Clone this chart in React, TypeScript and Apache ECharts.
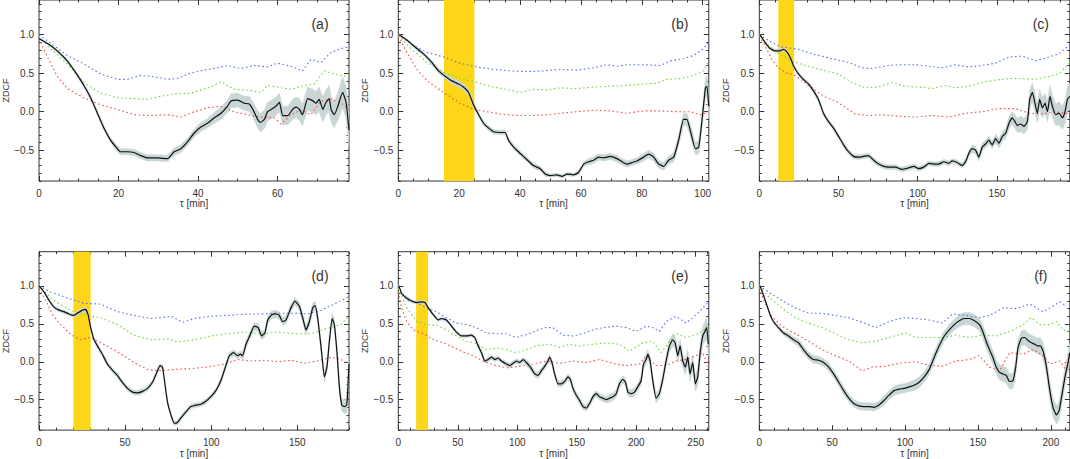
import { useEffect, useRef } from "react";
import * as echarts from "echarts";

type Pt = [number, number];
// tau [min], ZDCF, error half-width
type ZPt = [number, number, number];

// ---- panel (a) ----
const ZDCF_A: ZPt[] = [
  [0, 0.95, 0.01], [2.9, 0.86, 0.01], [5, 0.77, 0.02], [7.1, 0.66, 0.02], [9.2, 0.51, 0.02],
  [11.3, 0.34, 0.03], [13, 0.18, 0.03], [14.7, -0.02, 0.03], [16.3, -0.21, 0.03], [18, -0.37, 0.03],
  [19.7, -0.48, 0.04], [20.5, -0.52, 0.04], [22.2, -0.52, 0.04], [23.9, -0.53, 0.04], [25.6, -0.57, 0.04],
  [27.3, -0.6, 0.04], [29.8, -0.6, 0.04], [32.3, -0.61, 0.04], [34, -0.52, 0.05], [35.7, -0.48, 0.05],
  [37.4, -0.39, 0.05], [39, -0.28, 0.05], [40.7, -0.2, 0.06], [42.4, -0.15, 0.06], [44.1, -0.08, 0.07],
  [45.8, -0.02, 0.08], [47.4, 0.07, 0.08], [48.3, 0.14, 0.09], [50, 0.15, 0.09], [51.6, 0.11, 0.09],
  [52.9, 0.1, 0.1], [53.8, 0.03, 0.1], [55, -0.1, 0.11], [55.7, -0.14, 0.12], [56.7, -0.1, 0.12],
  [57.5, 0, 0.12], [58.5, 0.03, 0.12], [59.6, 0.07, 0.12], [60.5, 0.12, 0.12], [61.3, -0.05, 0.12],
  [62.6, -0.05, 0.12], [63.8, 0.03, 0.13], [64.7, 0.06, 0.13], [65.5, 0.03, 0.14], [66.3, -0.04, 0.14],
  [67.6, 0.17, 0.15], [68.9, 0.14, 0.15], [69.7, 0.11, 0.15], [70.5, 0.16, 0.16], [71.4, 0.03, 0.16],
  [72.2, 0.12, 0.16], [73, 0.17, 0.17], [73.5, 0.03, 0.17], [74.3, -0.04, 0.17], [75.2, 0.07, 0.18],
  [76.4, 0.25, 0.2], [77.3, 0.11, 0.2], [78, -0.24, 0.22],
];
const BLUE_A: Pt[] = [
  [0, 1.0], [3.7, 0.86], [7.1, 0.73], [11.3, 0.62], [15.5, 0.49], [19.7, 0.42], [22.2, 0.42], [25.6, 0.47],
  [28.1, 0.46], [32.3, 0.42], [34.8, 0.43], [37.4, 0.49], [40.7, 0.53], [44.9, 0.57], [47.4, 0.6], [50.8, 0.56],
  [54.2, 0.6], [57.5, 0.58], [60, 0.63], [63.4, 0.59], [66.3, 0.53], [68.4, 0.68], [71, 0.64], [73.5, 0.77],
  [76, 0.82], [78, 0.84],
];
const GREEN_A: Pt[] = [
  [0, 0.97], [2.9, 0.82], [7.1, 0.62], [11.3, 0.38], [15.5, 0.24], [19.7, 0.18], [23.9, 0.17], [27.3, 0.16],
  [30.6, 0.2], [34, 0.23], [38.2, 0.24], [40.7, 0.28], [43.2, 0.32], [45.8, 0.39], [49.1, 0.29], [52.5, 0.28],
  [55.8, 0.25], [57.5, 0.34], [60.9, 0.31], [63.4, 0.29], [65.9, 0.33], [69.3, 0.36], [71.8, 0.53], [74.3, 0.49],
  [76.9, 0.46], [78, 0.49],
];
const RED_A: Pt[] = [
  [0, 0.95], [2.1, 0.71], [4.6, 0.46], [7.1, 0.3], [11.3, 0.18], [15.5, 0.09], [19.7, 0.03], [23.9, -0.04],
  [28.1, -0.05], [32.3, -0.04], [35.7, -0.07], [39, 0], [42.4, 0.05], [45.8, 0.07], [49.1, 0], [52.5, -0.04],
  [55.8, -0.07], [59.2, -0.08], [60.9, -0.16], [63.4, -0.04], [65.9, 0.02], [68.4, -0.04], [71, 0.14], [73.5, 0.16],
  [76, 0.11], [78, 0.03],
];

// ---- panel (b) ----
const ZDCF_B: ZPt[] = [
  [0.3, 1.0, 0.01], [2.8, 0.93, 0.01], [5.5, 0.84, 0.02], [8.3, 0.75, 0.02], [11, 0.64, 0.03],
  [13.2, 0.53, 0.03], [15.4, 0.46, 0.03], [17.6, 0.4, 0.04], [19.8, 0.36, 0.04], [21.4, 0.32, 0.04],
  [23.1, 0.25, 0.04], [24.7, 0.09, 0.03], [26.4, -0.04, 0.03], [28, -0.15, 0.03], [29.6, -0.21, 0.03],
  [31.3, -0.26, 0.03], [33.5, -0.27, 0.03], [35.1, -0.27, 0.03], [36.2, -0.37, 0.03], [37.9, -0.46, 0.03],
  [40, -0.54, 0.03], [42.2, -0.62, 0.03], [44.4, -0.7, 0.03], [46.6, -0.74, 0.03], [48.3, -0.81, 0.03],
  [49.9, -0.83, 0.02], [52.1, -0.82, 0.02], [53.8, -0.84, 0.02], [55.4, -0.81, 0.02], [57.6, -0.82, 0.02],
  [59.2, -0.79, 0.03], [60.9, -0.68, 0.03], [62.5, -0.65, 0.04], [64.2, -0.63, 0.04], [65.8, -0.59, 0.04],
  [67.5, -0.6, 0.04], [69.6, -0.58, 0.04], [71.8, -0.61, 0.04], [73.5, -0.65, 0.04], [75.1, -0.68, 0.04],
  [76.8, -0.66, 0.04], [78.4, -0.64, 0.04], [80.6, -0.59, 0.05], [82.2, -0.55, 0.05], [83.9, -0.59, 0.05],
  [85.5, -0.68, 0.05], [87.2, -0.71, 0.05], [88.8, -0.63, 0.05], [90.5, -0.59, 0.06], [92.1, -0.37, 0.07],
  [93.7, -0.1, 0.08], [94.8, -0.1, 0.08], [95.9, -0.24, 0.08], [97.6, -0.48, 0.08], [98.7, -0.46, 0.09],
  [99.8, -0.1, 0.1], [100.9, 0.31, 0.12], [101.4, 0.33, 0.14], [102, 0.07, 0.16],
];
const BLUE_B: Pt[] = [
  [0, 1.0], [5, 0.86], [9.4, 0.77], [14.9, 0.71], [20.3, 0.63], [25.8, 0.58], [31.3, 0.55], [36.8, 0.53],
  [42.3, 0.52], [47.7, 0.53], [53.2, 0.55], [58.7, 0.54], [64.2, 0.57], [68.6, 0.61], [71.8, 0.59], [75.1, 0.61],
  [80.6, 0.61], [86.1, 0.6], [89.4, 0.66], [93.8, 0.69], [97, 0.73], [100.3, 0.82], [102, 0.91],
];
const GREEN_B: Pt[] = [
  [0, 0.99], [5, 0.79], [9.4, 0.64], [14.9, 0.51], [20.3, 0.43], [25.8, 0.38], [31.3, 0.32], [36.8, 0.28],
  [40, 0.25], [44.4, 0.29], [48.8, 0.28], [53.2, 0.31], [58.7, 0.3], [64.2, 0.32], [69.6, 0.33], [75.1, 0.34],
  [80.6, 0.36], [85, 0.37], [88.3, 0.42], [92.7, 0.43], [97, 0.47], [100.3, 0.53], [102, 0.66],
];
const RED_B: Pt[] = [
  [0, 0.98], [2.8, 0.77], [6.1, 0.55], [9.4, 0.4], [14.9, 0.25], [20.3, 0.11], [24.7, 0.03], [29.1, 0],
  [33.5, -0.03], [39, -0.05], [44.4, -0.05], [48.8, -0.04], [53.2, -0.02], [58.7, 0], [64.2, 0.02], [69.6, 0.01],
  [75.1, -0.02], [80.6, 0.01], [86.1, 0.01], [91.6, 0], [95.9, 0], [99.2, -0.04], [102, 0],
];

// ---- panel (c) ----
const ZDCF_C: ZPt[] = [
  [0.4, 1.0, 0.01], [3.6, 0.9, 0.01], [6.8, 0.82, 0.02], [9.9, 0.79, 0.02], [13.1, 0.79, 0.02],
  [15.2, 0.81, 0.02], [17.3, 0.78, 0.02], [19.4, 0.71, 0.02], [21.5, 0.6, 0.02], [24.7, 0.49, 0.02],
  [27.8, 0.42, 0.02], [31, 0.36, 0.03], [34.2, 0.27, 0.03], [37.3, 0.16, 0.03], [40.5, -0.02, 0.03],
  [43.7, -0.13, 0.03], [46.8, -0.21, 0.03], [50, -0.32, 0.03], [53.2, -0.43, 0.03], [56.3, -0.52, 0.03],
  [59.5, -0.58, 0.03], [62.7, -0.59, 0.03], [65.8, -0.58, 0.03], [69, -0.57, 0.03], [72.2, -0.63, 0.03],
  [75.3, -0.68, 0.03], [78.5, -0.71, 0.03], [81.6, -0.72, 0.03], [85.9, -0.72, 0.03], [90.1, -0.75, 0.03],
  [94.3, -0.73, 0.03], [97.5, -0.71, 0.03], [100.6, -0.74, 0.03], [103.8, -0.72, 0.03], [107, -0.67, 0.03],
  [110.1, -0.68, 0.03], [113.3, -0.68, 0.03], [116.5, -0.65, 0.03], [119.6, -0.67, 0.03], [121.7, -0.64, 0.03],
  [124.9, -0.66, 0.03], [128.1, -0.7, 0.03], [130.2, -0.65, 0.04], [132.3, -0.54, 0.04], [134.4, -0.48, 0.05],
  [136.5, -0.5, 0.05], [138.6, -0.59, 0.05], [140.7, -0.46, 0.05], [142.8, -0.42, 0.05], [144.9, -0.37, 0.05],
  [147, -0.43, 0.05], [149.2, -0.35, 0.06], [151.3, -0.41, 0.06], [153.4, -0.32, 0.06], [155.5, -0.28, 0.07],
  [157.6, -0.15, 0.08], [159.7, -0.08, 0.08], [161.4, -0.13, 0.09], [162.9, -0.18, 0.09], [165, -0.16, 0.1],
  [167.1, -0.19, 0.1], [169.2, -0.13, 0.1], [170.7, 0.16, 0.12], [172.4, 0.25, 0.12], [174, 0.11, 0.12],
  [175.5, -0.02, 0.12], [177, 0.16, 0.13], [178.7, 0.05, 0.13], [180.4, 0.11, 0.13], [181.9, 0, 0.13],
  [183.5, 0.2, 0.14], [185, 0.07, 0.14], [187.1, -0.04, 0.14], [189.2, -0.02, 0.15], [191.4, -0.08, 0.15],
  [193, 0, 0.15], [194.5, 0.16, 0.16], [196, 0.2, 0.17],
];
const BLUE_C: Pt[] = [
  [0, 1.0], [7.8, 0.9], [14.1, 0.84], [24.7, 0.81], [35.2, 0.74], [45.8, 0.69], [56.3, 0.64], [64.8, 0.57],
  [71.1, 0.56], [81.6, 0.6], [90.1, 0.61], [98.5, 0.61], [107, 0.59], [115.4, 0.57], [123.8, 0.61], [132.3, 0.58],
  [140.7, 0.6], [149.2, 0.63], [157.6, 0.71], [166, 0.72], [170.3, 0.69], [174.5, 0.66], [182.9, 0.71],
  [189.2, 0.75], [196, 0.87],
];
const GREEN_C: Pt[] = [
  [0, 0.99], [7.8, 0.82], [14.1, 0.73], [20.5, 0.66], [28.9, 0.6], [39.5, 0.54], [50, 0.49], [58.4, 0.38],
  [66.9, 0.31], [75.3, 0.32], [83.8, 0.38], [92.2, 0.33], [100.6, 0.32], [109.1, 0.3], [117.5, 0.34], [123.8, 0.31],
  [132.3, 0.33], [140.7, 0.38], [149.2, 0.41], [157.6, 0.43], [166, 0.43], [174.5, 0.42], [182.9, 0.46],
  [189.2, 0.49], [196, 0.64],
];
const RED_C: Pt[] = [
  [0, 0.98], [3.6, 0.86], [7.8, 0.68], [12, 0.57], [17.3, 0.5], [22.6, 0.47], [28.9, 0.38], [35.2, 0.28],
  [41.6, 0.19], [47.9, 0.14], [54.2, 0.06], [60.5, -0.03], [69, -0.05], [77.4, -0.04], [88, -0.06], [98.5, -0.07],
  [109.1, -0.05], [119.6, -0.07], [130.2, -0.02], [140.7, 0], [151.3, 0.04], [161.8, 0.04], [170.3, -0.02],
  [178.7, -0.03], [187.1, 0], [196, -0.03],
];

// ---- panel (d) ----
const ZDCF_D: ZPt[] = [
  [0, 1.0, 0.01], [2.9, 0.92, 0.01], [5.8, 0.81, 0.02], [8.7, 0.72, 0.02], [11.6, 0.68, 0.02],
  [14.5, 0.66, 0.02], [17.4, 0.63, 0.02], [20, 0.61, 0.02], [22.3, 0.64, 0.03], [25.2, 0.68, 0.03],
  [27.1, 0.69, 0.03], [28.5, 0.62, 0.03], [30, 0.45, 0.03], [32, 0.29, 0.03], [33.9, 0.21, 0.03],
  [36.8, 0.1, 0.03], [39.7, -0.03, 0.03], [42.6, -0.11, 0.03], [45.5, -0.18, 0.03], [48.4, -0.27, 0.03],
  [51.4, -0.35, 0.03], [54.3, -0.4, 0.03], [57.2, -0.41, 0.03], [60.1, -0.39, 0.03], [63, -0.35, 0.03],
  [65.9, -0.27, 0.03], [68.4, -0.14, 0.03], [70.3, -0.05, 0.03], [71.7, -0.07, 0.03], [73.1, -0.29, 0.03],
  [74.6, -0.53, 0.03], [76.6, -0.7, 0.03], [78.5, -0.81, 0.03], [80.4, -0.8, 0.03], [82.4, -0.74, 0.03],
  [85.3, -0.66, 0.03], [88.2, -0.59, 0.03], [91.1, -0.57, 0.03], [94, -0.56, 0.03], [96.9, -0.52, 0.03],
  [99.8, -0.46, 0.03], [102.7, -0.38, 0.03], [105.6, -0.25, 0.04], [108.5, -0.05, 0.04], [110.5, 0.08, 0.04],
  [113, 0.12, 0.04], [115.3, 0.08, 0.04], [116.9, 0.1, 0.04], [118.2, 0.08, 0.05], [120.2, 0.23, 0.05],
  [122.7, 0.36, 0.05], [125, 0.47, 0.05], [127.3, 0.45, 0.05], [129.3, 0.34, 0.05], [131.2, 0.38, 0.05],
  [132.8, 0.55, 0.05], [135.1, 0.62, 0.05], [137.6, 0.63, 0.05], [139.5, 0.61, 0.05], [141.5, 0.53, 0.05],
  [143.4, 0.55, 0.05], [146.3, 0.71, 0.05], [148.6, 0.8, 0.05], [151.2, 0.73, 0.05], [153.1, 0.58, 0.06],
  [155, 0.42, 0.06], [157, 0.53, 0.06], [158.9, 0.71, 0.06], [160.3, 0.74, 0.06], [161.8, 0.58, 0.06],
  [163.8, 0.19, 0.07], [165.7, -0.2, 0.07], [167.2, -0.07, 0.07], [168.6, 0.27, 0.07], [170.2, 0.57, 0.07],
  [171.5, 0.49, 0.07], [173.1, 0.1, 0.08], [174.4, -0.33, 0.08], [175.8, -0.57, 0.08], [177.3, -0.59, 0.09],
  [178.7, -0.57, 0.1], [180, -0.03, 0.12],
];
const BLUE_D: Pt[] = [
  [0, 1.0], [6.8, 0.92], [16.5, 0.84], [26.2, 0.77], [35.9, 0.76], [45.5, 0.66], [55.2, 0.61], [64.9, 0.57],
  [70.7, 0.58], [76.6, 0.6], [83.3, 0.52], [90.1, 0.57], [99.8, 0.6], [109.5, 0.61], [121.5, 0.63], [128.9, 0.63],
  [138.6, 0.64], [148.3, 0.64], [156, 0.63], [163.8, 0.68], [171.5, 0.76], [180, 0.86],
];
const GREEN_D: Pt[] = [
  [0, 1.0], [6.8, 0.84], [12.6, 0.75], [20.3, 0.66], [28.1, 0.61], [35.9, 0.58], [45.5, 0.49], [55.2, 0.35],
  [64.9, 0.29], [74.6, 0.3], [80.4, 0.26], [90.1, 0.29], [99.8, 0.34], [109.5, 0.37], [119.2, 0.39], [128.9, 0.37],
  [138.6, 0.39], [148.3, 0.37], [158, 0.37], [167.6, 0.44], [175.4, 0.49], [180, 0.61],
];
const RED_D: Pt[] = [
  [0, 0.97], [3.9, 0.81], [7.8, 0.62], [12.6, 0.49], [18.4, 0.36], [24.2, 0.29], [30, 0.32], [35.9, 0.25],
  [41.7, 0.18], [49.4, 0.08], [55.2, -0.01], [63, -0.1], [68.8, -0.12], [78.5, -0.1], [88.2, -0.09], [97.9, -0.07],
  [107.6, -0.03], [115.3, 0.03], [123.1, 0.01], [130.8, 0.02], [138.6, 0], [146.3, 0.02], [154.1, -0.02],
  [161.8, 0.01], [169.6, 0.06], [175.4, 0.03], [180, -0.03],
];

// ---- panel (e) ----
const ZDCF_E: ZPt[] = [
  [0.6, 1.0, 0.01], [2.8, 0.9, 0.01], [7, 0.84, 0.02], [11.2, 0.8, 0.02], [15.4, 0.78, 0.02],
  [19.6, 0.79, 0.02], [22.4, 0.78, 0.02], [25.2, 0.71, 0.02], [29.4, 0.62, 0.02], [33.6, 0.55, 0.02],
  [36.4, 0.57, 0.02], [40.5, 0.55, 0.02], [44.7, 0.47, 0.02], [48.9, 0.39, 0.02], [53.1, 0.34, 0.02],
  [57.3, 0.34, 0.02], [61.5, 0.35, 0.02], [64.3, 0.32, 0.02], [67.1, 0.21, 0.03], [69.9, 0.12, 0.03],
  [72.7, 0.01, 0.03], [75.5, 0.03, 0.03], [78.3, 0.06, 0.03], [81.1, 0.03, 0.03], [83.9, 0.05, 0.03],
  [86.7, 0.01, 0.03], [90.9, -0.03, 0.03], [93.7, -0.05, 0.03], [96.5, -0.02, 0.03], [99.3, 0.01, 0.03],
  [102.1, -0.01, 0.03], [104.9, 0.03, 0.03], [107.7, -0.01, 0.04], [111, -0.07, 0.04], [114.7, -0.16, 0.04],
  [117.4, -0.18, 0.04], [120.2, -0.12, 0.04], [123, -0.06, 0.04], [125.8, 0.01, 0.04], [127.2, 0.06, 0.04],
  [129.5, -0.03, 0.04], [131.4, -0.16, 0.04], [134.2, -0.29, 0.04], [137, -0.29, 0.04], [139.8, -0.26, 0.04],
  [142.6, -0.2, 0.04], [144.6, -0.23, 0.04], [146.8, -0.35, 0.04], [149.6, -0.44, 0.04], [152.4, -0.51, 0.04],
  [155.2, -0.59, 0.04], [158, -0.61, 0.04], [160.8, -0.55, 0.04], [163.6, -0.46, 0.04], [166.4, -0.42, 0.04],
  [169.2, -0.46, 0.04], [172, -0.48, 0.04], [174.8, -0.5, 0.04], [177.6, -0.48, 0.05], [180.4, -0.46, 0.05],
  [183.2, -0.42, 0.05], [185.9, -0.29, 0.05], [188.8, -0.23, 0.05], [191, -0.27, 0.05], [193, -0.4, 0.05],
  [195.7, -0.42, 0.05], [198.5, -0.4, 0.05], [201.3, -0.33, 0.05], [204.1, -0.25, 0.06], [206.1, -0.03, 0.06],
  [208.3, 0.03, 0.06], [209.7, 0.1, 0.06], [211.7, 0.01, 0.06], [213.9, -0.25, 0.06], [216.7, -0.48, 0.06],
  [219.5, -0.42, 0.06], [222.3, -0.23, 0.07], [225.1, 0.01, 0.07], [227.9, 0.21, 0.08], [230.7, 0.29, 0.08],
  [232.7, 0.25, 0.08], [234.9, 0.08, 0.09], [236.9, 0.21, 0.09], [239.1, 0.01, 0.09], [241.3, -0.07, 0.1],
  [243.3, 0.06, 0.1], [245.2, -0.16, 0.1], [247.5, -0.01, 0.1], [249.7, -0.29, 0.1], [251.7, -0.2, 0.11],
  [253.6, 0.1, 0.11], [255.9, 0.34, 0.12], [257.8, 0.4, 0.13], [259.2, 0.45, 0.14], [260.6, 0.23, 0.15],
];
const BLUE_E: Pt[] = [
  [0, 0.99], [7, 0.81], [15.4, 0.78], [23.8, 0.71], [32.2, 0.66], [40.5, 0.58], [48.9, 0.51], [57.3, 0.49],
  [65.7, 0.45], [74.1, 0.38], [82.5, 0.37], [90.9, 0.37], [99.3, 0.32], [107.7, 0.36], [116, 0.41], [123, 0.45],
  [130, 0.45], [138.4, 0.35], [146.8, 0.34], [155.2, 0.37], [163.6, 0.42], [172, 0.45], [183.2, 0.47],
  [191.6, 0.45], [199.9, 0.4], [208.3, 0.47], [213.9, 0.45], [219.5, 0.4], [225.1, 0.53], [233.5, 0.6],
  [241.9, 0.51], [247.5, 0.58], [253.1, 0.66], [260.6, 0.79],
];
const GREEN_E: Pt[] = [
  [0, 0.97], [7, 0.71], [15.4, 0.53], [23.8, 0.49], [32.2, 0.48], [40.5, 0.42], [48.9, 0.34], [57.3, 0.27],
  [65.7, 0.24], [74.1, 0.16], [82.5, 0.18], [90.9, 0.16], [99.3, 0.12], [107.7, 0.16], [116, 0.21], [127.2, 0.23],
  [135.6, 0.19], [144, 0.23], [152.4, 0.21], [163.6, 0.23], [174.8, 0.25], [185.9, 0.23], [194.4, 0.14],
  [205.5, 0.25], [213.9, 0.27], [220.9, 0.12], [227.9, 0.27], [233.5, 0.37], [241.9, 0.32], [250.3, 0.36],
  [255.9, 0.4], [260.6, 0.47],
];
const RED_E: Pt[] = [
  [0, 0.92], [2.8, 0.71], [7, 0.53], [12.6, 0.42], [21, 0.37], [29.4, 0.29], [37.8, 0.25], [46.1, 0.19],
  [54.5, 0.13], [62.9, 0.08], [71.3, 0.01], [79.7, -0.04], [90.9, -0.08], [102.1, -0.06], [113.3, -0.03],
  [124.4, 0.01], [135.6, -0.02], [146.8, 0.01], [158, -0.01], [169.2, 0.03], [180.4, -0.02], [191.6, -0.05],
  [202.7, -0.03], [208.3, 0.08], [216.7, -0.05], [225.1, -0.05], [233.5, 0.01], [241.9, 0.03], [250.3, 0.08],
  [255.9, 0.12], [260.6, -0.07],
];

// ---- panel (f) ----
const ZDCF_F: ZPt[] = [
  [0.5, 1.0, 0.01], [2.8, 0.88, 0.02], [5.1, 0.75, 0.02], [7.4, 0.62, 0.02], [9.7, 0.53, 0.02],
  [13.1, 0.45, 0.03], [16.6, 0.38, 0.03], [20, 0.34, 0.04], [23.4, 0.29, 0.04], [26.9, 0.25, 0.05],
  [30.3, 0.16, 0.05], [33.8, 0.08, 0.05], [37.2, 0.03, 0.05], [40.7, 0.02, 0.05], [44.1, -0.01, 0.05],
  [47.6, -0.07, 0.05], [51, -0.16, 0.05], [54.5, -0.27, 0.05], [57.9, -0.38, 0.05], [61.4, -0.48, 0.05],
  [64.8, -0.55, 0.05], [68.3, -0.58, 0.05], [71.7, -0.59, 0.05], [75.2, -0.59, 0.05], [78.6, -0.6, 0.05],
  [82.1, -0.57, 0.05], [85.5, -0.51, 0.06], [89, -0.44, 0.06], [92.4, -0.38, 0.06], [95.9, -0.36, 0.06],
  [99.3, -0.35, 0.06], [102.8, -0.33, 0.06], [106.2, -0.31, 0.07], [109.7, -0.27, 0.07], [113.1, -0.2, 0.07],
  [116.6, -0.1, 0.07], [120, 0.06, 0.07], [123.4, 0.21, 0.07], [126.9, 0.34, 0.07], [130.3, 0.42, 0.07],
  [133.8, 0.49, 0.07], [137.2, 0.54, 0.08], [140.7, 0.57, 0.08], [144.1, 0.57, 0.08], [147.6, 0.54, 0.08],
  [151, 0.49, 0.08], [153.3, 0.4, 0.09], [155.6, 0.27, 0.09], [157.9, 0.16, 0.09], [160.2, 0.06, 0.09],
  [162.5, -0.07, 0.09], [164.8, -0.14, 0.1], [167.1, -0.16, 0.1], [169.4, -0.18, 0.1], [171.7, -0.26, 0.1],
  [174, -0.25, 0.1], [175.9, -0.07, 0.1], [177.5, 0.19, 0.1], [179.8, 0.31, 0.1], [182.1, 0.32, 0.1],
  [184.4, 0.28, 0.1], [186.7, 0.25, 0.1], [189, 0.23, 0.1], [190.6, 0.21, 0.1], [192.9, 0.21, 0.11],
  [194.7, 0.14, 0.11], [197, -0.07, 0.11], [199.3, -0.38, 0.12], [201.6, -0.61, 0.12], [203.9, -0.7, 0.12],
  [205.7, -0.64, 0.12], [207.4, -0.46, 0.12], [209.7, -0.2, 0.12], [212, 0.01, 0.12], [213, 0.12, 0.12],
];
const BLUE_F: Pt[] = [
  [0, 1.0], [6.2, 0.92], [15.4, 0.81], [24.6, 0.71], [33.8, 0.64], [43, 0.64], [52.2, 0.61], [61.4, 0.58],
  [70.6, 0.52], [79.8, 0.45], [89, 0.53], [98.2, 0.58], [107.4, 0.57], [116.6, 0.55], [125.7, 0.51], [132.6, 0.63],
  [141.8, 0.61], [151, 0.58], [157.9, 0.61], [167.1, 0.71], [176.3, 0.7], [185.5, 0.76], [194.7, 0.66],
  [199.3, 0.71], [206.2, 0.79], [210.8, 0.73],
];
const GREEN_F: Pt[] = [
  [0, 0.99], [6.2, 0.86], [15.4, 0.71], [24.6, 0.58], [33.8, 0.51], [43, 0.45], [52.2, 0.37], [61.4, 0.29],
  [70.6, 0.25], [79.8, 0.27], [89, 0.32], [100.5, 0.38], [107.4, 0.32], [116.6, 0.32], [125.7, 0.32], [134.9, 0.35],
  [144.1, 0.32], [153.3, 0.35], [162.5, 0.34], [171.7, 0.4], [180.9, 0.49], [186.7, 0.58], [192.4, 0.49],
  [199.3, 0.49], [203.9, 0.53], [208.5, 0.42], [213, 0.4],
];
const RED_F: Pt[] = [
  [0, 0.97], [3.9, 0.77], [8.5, 0.6], [15.4, 0.47], [24.6, 0.37], [33.8, 0.27], [43, 0.16], [52.2, 0.08],
  [61.4, 0.01], [70.6, -0.12], [77.5, -0.07], [86.7, -0.06], [95.9, -0.02], [107.4, 0], [116.6, -0.05],
  [125.7, -0.06], [134.9, 0.01], [144.1, 0.03], [151, 0.08], [157.9, -0.07], [164.8, -0.12], [171.7, 0.12],
  [180.9, 0.1], [187.8, 0.16], [194.7, 0.08], [199.3, -0.03], [206.2, 0.01], [210.8, -0.12], [213, 0.06],
];

const LABELS = ["(a)", "(b)", "(c)", "(d)", "(e)", "(f)"];
const ZDCF = [ZDCF_A, ZDCF_B, ZDCF_C, ZDCF_D, ZDCF_E, ZDCF_F];
const BLUE = [BLUE_A, BLUE_B, BLUE_C, BLUE_D, BLUE_E, BLUE_F];
const GREEN = [GREEN_A, GREEN_B, GREEN_C, GREEN_D, GREEN_E, GREEN_F];
const RED = [RED_A, RED_B, RED_C, RED_D, RED_E, RED_F];
const X_MAX = [78, 102, 196, 180, 261, 213];
const X_MAJOR = [20, 20, 50, 50, 50, 50];
const X_MINOR = [5, 5, 10, 10, 10, 10];
// shaded (yellow) tau intervals
const BANDS: ([number, number] | null)[] = [null, [15, 25], [12, 22], [20, 30], [15, 25], null];
const Y_MIN = -0.9;
const Y_MAX = 1.45;
const Y_MAJOR = [-0.5, 0, 0.5, 1.0];

// layout
const COL_LEFT = [38.5, 398.3, 759.3];
const ROW_TOP = [0, 251.7];
const GRID_W = 310.5;
const GRID_H = 181;

const FONT = "'Liberation Sans', Arial, sans-serif";
const INK = "#333";
const C_BLUE = "#5d6ffa";
const C_GREEN = "#6fd83c";
const C_RED = "#f05050";
const C_BAND = "#c9d6d6";
const C_YELLOW = "#fdd617";

function steps(from: number, to: number, step: number) {
  const out: number[] = [];
  for (let v = from; v <= to + 1e-9; v += step) out.push(Math.round(v * 1000) / 1000);
  return out;
}

function yFmt(v: number) {
  return v < 0 ? "\u2212" + Math.abs(v).toFixed(1) : v.toFixed(1);
}

export default function App() {
  const ref = useRef<HTMLDivElement>(null);

  useEffect(() => {
    if (!ref.current) return;
    document.body.style.margin = "0";
    const chart = echarts.init(ref.current, undefined, { renderer: "svg" });

    const grids: any[] = [];
    const xAxes: any[] = [];
    const yAxes: any[] = [];
    const series: any[] = [];
    const graphics: any[] = [];
    const yMinor = steps(Y_MIN, 1.4, 0.1);

    for (let i = 0; i < 6; i++) {
      const col = i % 3;
      const row = Math.floor(i / 3);
      const left = COL_LEFT[col];
      const top = ROW_TOP[row];
      grids.push({
        left, top, width: GRID_W, height: GRID_H,
        show: true, borderColor: INK, borderWidth: 1, backgroundColor: "transparent",
      });
      const xMinor = steps(0, X_MAX[i], X_MINOR[i]);
      const xMajor = steps(0, X_MAX[i], X_MAJOR[i]);

      for (const pos of ["bottom", "top"]) {
        for (const major of [false, true]) {
          const labelled = pos === "bottom" && major;
          xAxes.push({
            type: "value", gridIndex: i, position: pos, min: 0, max: X_MAX[i],
            axisLine: { show: false, onZero: false },
            axisTick: {
              show: true, inside: true, length: major ? 5 : 2.5,
              customValues: major ? xMajor : xMinor,
              lineStyle: { color: INK, width: 1 },
            },
            axisLabel: labelled
              ? { show: true, customValues: xMajor, margin: 7, color: INK, fontSize: 10, fontFamily: FONT }
              : { show: false },
            splitLine: { show: false },
            name: labelled ? "\u03c4 [min]" : "",
            nameLocation: "middle", nameGap: 17,
            nameTextStyle: { color: INK, fontSize: 10, fontFamily: FONT },
          });
        }
      }
      for (const pos of ["left", "right"]) {
        for (const major of [false, true]) {
          const labelled = pos === "left" && major;
          yAxes.push({
            type: "value", gridIndex: i, position: pos, min: Y_MIN, max: Y_MAX,
            axisLine: { show: false, onZero: false },
            axisTick: {
              show: true, inside: true, length: major ? 5 : 2.5,
              customValues: major ? Y_MAJOR : yMinor,
              lineStyle: { color: INK, width: 1 },
            },
            axisLabel: labelled
              ? { show: true, customValues: Y_MAJOR, formatter: yFmt, margin: 5, color: INK, fontSize: 10, fontFamily: FONT }
              : { show: false },
            splitLine: { show: false },
            name: labelled ? "ZDCF" : "",
            nameLocation: "middle", nameGap: 29, nameRotate: 90,
            nameTextStyle: { color: INK, fontSize: 9, fontFamily: FONT },
          });
        }
      }

      const ax = i * 4;
      const zd = ZDCF[i];
      const band = BANDS[i];

      // yellow shaded interval
      series.push({
        type: "line", xAxisIndex: ax, yAxisIndex: ax, z: 1, silent: true,
        data: [], symbol: "none",
        markArea: band
          ? { silent: true, itemStyle: { color: C_YELLOW, opacity: 1 }, data: [[{ xAxis: band[0] }, { xAxis: band[1] }]] }
          : undefined,
      });
      // grey error band, drawn as one polygon through the axis scales
      series.push({
        type: "custom", xAxisIndex: ax, yAxisIndex: ax, z: 2, silent: true, clip: true,
        data: zd.map((p) => [p[0], p[1], p[2]]),
        encode: { x: 0, y: 1 },
        renderItem: (params: any, api: any) => {
          if (params.dataIndex !== 0) return null;
          const up = zd.map((p) => api.coord([p[0], p[1] + p[2]]));
          const lo = zd.map((p) => api.coord([p[0], p[1] - p[2]])).reverse();
          return {
            type: "polygon",
            shape: { points: up.concat(lo) },
            style: { fill: C_BAND, stroke: C_BAND, lineWidth: 0.6 },
          };
        },
      });
      const dotted = (data: Pt[], color: string) => ({
        type: "line", xAxisIndex: ax, yAxisIndex: ax, z: 3, silent: true,
        data, symbol: "none",
        lineStyle: { color, width: 1.1, type: [1.6, 2.6] },
      });
      series.push(dotted(BLUE[i], C_BLUE));
      series.push(dotted(GREEN[i], C_GREEN));
      series.push(dotted(RED[i], C_RED));
      series.push({
        type: "line", xAxisIndex: ax, yAxisIndex: ax, z: 4, silent: true,
        data: zd.map((p) => [p[0], p[1]]), symbol: "none", smooth: 0.15,
        lineStyle: { color: "#111", width: 1.2 },
      });

      graphics.push({
        type: "text",
        z: 20,
        x: left + GRID_W - 29,
        y: top + 24,
        style: {
          text: LABELS[i], fill: INK, fontSize: 14, fontFamily: FONT,
          align: "center", verticalAlign: "middle",
        },
      });
    }

    chart.setOption({
      animation: false,
      grid: grids,
      xAxis: xAxes,
      yAxis: yAxes,
      series,
      graphic: graphics,
    });

    return () => {
      chart.dispose();
    };
  }, []);

  return <div ref={ref} style={{ width: 1070, height: 459 }} />;
}
